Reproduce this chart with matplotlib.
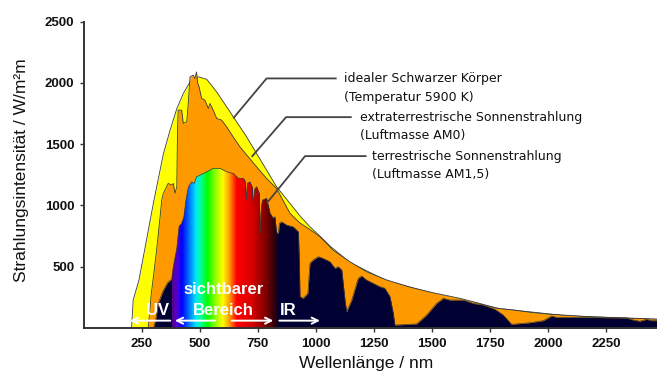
import numpy as np
import matplotlib
matplotlib.use("Agg")
import matplotlib.pyplot as plt
from matplotlib.colors import LinearSegmentedColormap

# --- data (wavelength nm, intensity W/m²m) ---
bb_nm = [205, 212, 237, 270, 300, 342, 371, 400, 428, 457, 493, 529, 572, 615,
         658, 701, 744, 787, 830, 888, 931, 974, 1017, 1060, 1146, 1305, 1504,
         1793, 2080, 2470]
bb_val = [0, 228, 392, 725, 1028, 1420, 1615, 1790, 1914, 2009, 2050, 2030, 1927,
          1805, 1683, 1560, 1425, 1289, 1153, 1017, 915, 826, 750, 670, 535, 385,
          282, 158, 100, 70]

am0_nm = [277, 290, 300, 313, 328, 335, 342, 363, 378, 385, 392, 400, 403, 406,
          421, 428, 443, 450, 457, 471, 478, 485, 490, 496, 507, 521, 536, 543,
          557, 572, 593, 615, 643, 672, 708, 744, 787, 830, 888, 931, 967, 1017,
          1060, 1073, 1146, 1218, 1305, 1405, 1504, 1621, 1707, 1779, 1849, 1922,
          1994, 2080, 2181, 2339, 2470]
am0_val = [0, 280, 430, 636, 908, 1044, 1099, 1180, 1166, 1180, 1099, 1153, 1600,
           1778, 1778, 1670, 1683, 1850, 2050, 2064, 2037, 2090, 2000, 1968, 1874,
           1860, 1792, 1833, 1778, 1710, 1697, 1642, 1560, 1479, 1397, 1316, 1221,
           1139, 936, 857, 813, 745, 663, 636, 541, 459, 392, 334, 288, 242, 200,
           161, 147, 128, 114, 104, 92, 82, 73]

am15_nm = [300, 310, 320, 340, 360, 378, 385, 400, 410, 420, 430, 440, 450, 464,
           475, 485, 500, 529, 557, 586, 615, 643, 665, 687, 694, 700, 704, 715,
           725, 730, 735, 744, 755, 760, 765, 770, 787, 802, 816, 823, 830, 838,
           842, 852, 874, 902, 924, 928, 931, 945, 965, 974, 988, 1010, 1031, 1060,
           1082, 1096, 1111, 1125, 1132, 1154, 1182, 1197, 1218, 1261, 1276, 1297,
           1319, 1333, 1340, 1434, 1477, 1520, 1549, 1577, 1635, 1678, 1721, 1771,
           1807, 1843, 1922, 1980, 2016, 2037, 2138, 2339, 2368, 2396, 2425, 2447,
           2470]
am15_val = [0, 80, 200, 300, 370, 400, 500, 650, 830, 850, 900, 1050, 1150, 1193,
            1180, 1234, 1248, 1275, 1303, 1303, 1275, 1262, 1221, 1221, 1200, 1050,
            1180, 1193, 1150, 1000, 1130, 1153, 1100, 772, 1000, 1044, 1058, 936,
            895, 908, 780, 770, 854, 867, 840, 826, 785, 554, 256, 242, 283, 528,
            555, 582, 568, 541, 487, 500, 473, 228, 133, 228, 405, 424, 392, 351,
            337, 324, 255, 120, 24, 33, 106, 201, 242, 228, 228, 201, 188, 153, 106,
            30, 43, 60, 98, 87, 87, 82, 65, 55, 71, 60, 60]

# visible band colours (nm, colour)
spec_nm = [378, 400, 420, 450, 480, 500, 530, 560, 595, 625, 655, 720, 780, 832]
spec_col = [(0.35, 0.0, 0.55), (0.3, 0.0, 0.85), (0.0, 0.0, 1.0), (0.0, 0.45, 1.0),
            (0.0, 0.9, 1.0), (0.0, 1.0, 0.6), (0.0, 1.0, 0.0), (0.5, 1.0, 0.0),
            (1.0, 1.0, 0.0), (1.0, 0.6, 0.0), (1.0, 0.0, 0.0), (0.85, 0.0, 0.0),
            (0.5, 0.0, 0.0), (0.08, 0.0, 0.08)]

# leader lines: (start, corner, end) in nm / value
leaders = [
    ([643, 787, 1089], [1711, 2037, 2037]),
    ([723, 871, 1154], [1397, 1721, 1721]),
    ([787, 953, 1218], [1017, 1403, 1403]),
]
legend_x = [1121, 1121, 1190, 1190, 1240, 1240]
legend_y = [2039, 1885, 1721, 1574, 1403, 1256]
legend_txt = ["idealer Schwarzer Körper", "(Temperatur 5900 K)",
              "extraterrestrische Sonnenstrahlung", "(Luftmasse AM0)",
              "terrestrische Sonnenstrahlung", "(Luftmasse AM1,5)"]

# white band arrows (tail nm, head nm)
arrows = [(372, 198), (565, 392), (637, 816), (842, 1017)]

xticks = [250, 500, 750, 1000, 1250, 1500, 1750, 2000, 2250]
yticks = [500, 1000, 1500, 2000, 2500]

fig = plt.figure(figsize=(6.57, 3.74), dpi=100)
ax = fig.add_axes([84/657, 1 - 328/374, 573/657, (328 - 21.7)/374])

edge = "#3a3a3a"
ax.fill_between(bb_nm, bb_val, color="#ffff00", lw=0, zorder=1)
ax.plot(bb_nm, bb_val, color=edge, lw=0.6, zorder=1.5)
ax.fill_between(am0_nm, am0_val, color="#ff9900", lw=0, zorder=2)
ax.plot(am0_nm, am0_val, color=edge, lw=0.6, zorder=2.5)
navy = ax.fill_between(am15_nm, am15_val, color="#000033", lw=0, zorder=3)
ax.plot(am15_nm, am15_val, color=edge, lw=0.5, zorder=4.5)

# rainbow in the visible range, clipped to the AM1.5 area
pos = [(n - spec_nm[0]) / (spec_nm[-1] - spec_nm[0]) for n in spec_nm]
cmap = LinearSegmentedColormap.from_list("spec", list(zip(pos, spec_col)))
grad = np.linspace(0, 1, 400).reshape(1, -1)
im = ax.imshow(grad, extent=[spec_nm[0], spec_nm[-1], 0, 1400], aspect="auto",
               cmap=cmap, zorder=4, interpolation="bilinear")
im.set_clip_path(navy.get_paths()[0], transform=ax.transData)

for xs, ys in leaders:
    ax.plot(xs, ys, color="#444444", lw=1.3, zorder=6, solid_capstyle="butt")
for x, y, t in zip(legend_x, legend_y, legend_txt):
    ax.text(x, y, t, fontsize=9, family="DejaVu Sans", color="#111111",
            va="center", ha="left", zorder=7)

for tail, head in arrows:
    ax.annotate("", xy=(head, 60), xytext=(tail, 60), zorder=8,
                arrowprops=dict(arrowstyle="->", color="white", lw=1.4,
                                mutation_scale=11, shrinkA=0, shrinkB=0))
lab = dict(color="white", fontsize=12, fontweight="bold",
           family="Liberation Sans", ha="center", va="center", zorder=8)
ax.text(319, 139, "UV", **lab)
ax.text(600, 318, "sichtbarer", **lab)
ax.text(600, 139, "Bereich", **lab)
ax.text(879, 139, "IR", **lab)

ax.set_xlim(0, 2470)
ax.set_ylim(0, 2500)
ax.set_xticks(xticks)
ax.set_yticks(yticks)
for s in ["top", "right"]:
    ax.spines[s].set_visible(False)
for s in ["left", "bottom"]:
    ax.spines[s].set_color("#333333")
    ax.spines[s].set_linewidth(1.4)
    ax.spines[s].set_zorder(9)
ax.tick_params(length=3, width=1, color="#333333", pad=4, labelsize=9.5)
for lbl in ax.get_xticklabels() + ax.get_yticklabels():
    lbl.set_family("Liberation Sans")
    lbl.set_fontweight("bold")
    lbl.set_color("#111111")

ax.set_xlabel("Wellenlänge / nm", fontsize=12.5, family="Liberation Sans",
              color="#111111")
ax.xaxis.set_label_coords(0.493, -0.092)
ax.set_ylabel("Strahlungsintensität / W/m²m", fontsize=12.5,
              family="Liberation Sans", color="#111111", va="center")
ax.yaxis.set_label_coords(-0.109, 0.514)

fig.savefig("out.png", dpi=100)
